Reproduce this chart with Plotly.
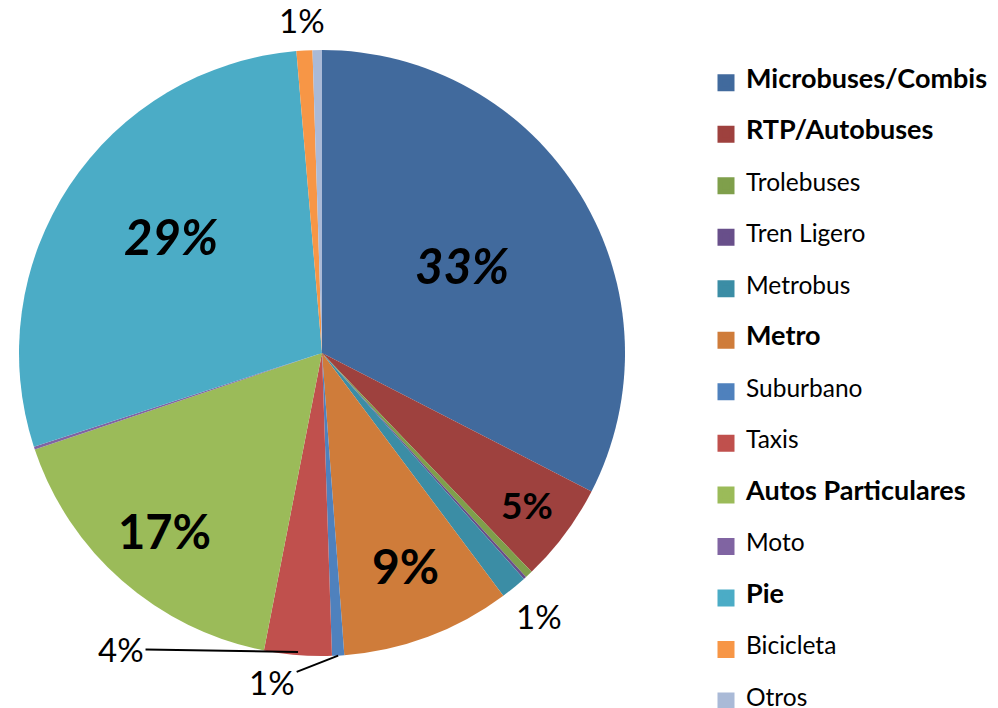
import math
import plotly.graph_objects as go

# ---------------- data ----------------
categories = ["Microbuses/Combis", "RTP/Autobuses", "Trolebuses", "Tren Ligero",
              "Metrobus", "Metro", "Suburbano", "Taxis", "Autos Particulares",
              "Moto", "Pie", "Bicicleta", "Otros"]
shares = [32.6, 5.3, 0.4, 0.15, 1.4, 9.05, 0.65, 3.6, 16.8, 0.15, 28.7, 0.85, 0.5]
colors = ["#416A9D", "#9E413E", "#7F9F4B", "#684F8A", "#3B8DA5", "#CF7C3A",
          "#4F81BD", "#C0504D", "#9BBB59", "#8064A2", "#4BACC6", "#F79646", "#AABAD7"]
emphasized = ["Microbuses/Combis", "RTP/Autobuses", "Metro", "Autos Particulares", "Pie"]

# label styling: (radius factor, x offset px, y offset px, bold, italic, size, leader line)
label_style = {
    "Microbuses/Combis": (0.54, 0, 3, True, True, 49, False),
    "RTP/Autobuses": (0.84, 1, 1, True, False, 37, False),
    "Metrobus": (1.13, 0, 2, False, False, 33, False),
    "Metro": (0.76, 3, 3, True, False, 48, False),
    "Suburbano": (1.0, -66, 26, False, False, 33, True),
    "Taxis": (0.99, -177, -3, False, False, 33, True),
    "Autos Particulares": (0.79, 0, 2, True, False, 47, False),
    "Pie": (0.63, 8, 11, True, True, 49, False),
    "Bicicleta": (1.10, -1, 0, False, False, 33, False),
}

# ---------------- layout geometry ----------------
W, H = 998, 708
CX, CY, R = 322, 353, 303
FONT = "Lato"

dom_x = [(CX - R) / W, (CX + R) / W]
dom_y = [1 - (CY + R) / H, 1 - (CY - R) / H]

total = sum(shares)

legend_names = []
for c in categories:
    if c in emphasized:
        txt = "<span style='font-size:27px'><b>" + c + "</b></span>"
    else:
        txt = "<span style='font-size:24.5px'>" + c + "</span>"
    legend_names.append("\u00a0<br>" + txt + "<br>\u00a0")

fig = go.Figure()

# legend proxy (tiny, hidden under the main pie at the same centre)
eps = 0.3
fig.add_trace(go.Pie(
    labels=legend_names, values=shares, sort=False, direction="clockwise",
    marker=dict(colors=colors, line=dict(color=colors, width=5)),
    textinfo="none", hoverinfo="skip", showlegend=True,
    domain=dict(x=[(CX - eps) / W, (CX + eps) / W], y=[1 - (CY + eps) / H, 1 - (CY - eps) / H]),
))

# main pie
fig.add_trace(go.Pie(
    labels=categories, values=shares, sort=False, direction="clockwise", rotation=0,
    marker=dict(colors=colors, line=dict(width=[0] * len(categories))),
    textinfo="none",
    showlegend=False, domain=dict(x=dom_x, y=dom_y),
    hovertemplate="%{label}: %{percent}<extra></extra>",
))

annotations = []
cum = 0.0
for c, v in zip(categories, shares):
    mid = (cum + v / 2) / total * 2 * math.pi
    cum += v
    if c not in label_style:
        continue
    k, ox, oy, bold, italic, size, arrow = label_style[c]
    px = CX + k * R * math.sin(mid)
    py = CY - k * R * math.cos(mid)
    txt = f"{round(v / total * 100)}%"
    if italic:
        txt = "<i>" + txt + "</i>"
    if bold:
        txt = "<b>" + txt + "</b>"
    ann = dict(
        x=px / W, y=1 - py / H, xref="paper", yref="paper",
        text=txt, showarrow=arrow,
        xanchor="center", yanchor="middle",
        font=dict(family=FONT, size=size, color="black"),
    )
    if arrow:
        ann.update(ax=ox, ay=oy, arrowhead=0, arrowwidth=2, arrowcolor="black", standoff=0)
    else:
        ann.update(xshift=ox, yshift=oy)
    annotations.append(ann)

fig.update_layout(
    width=W, height=H,
    margin=dict(l=0, r=0, t=0, b=0, autoexpand=False),
    paper_bgcolor="white", plot_bgcolor="white",
    font=dict(family=FONT, color="black"),
    legend=dict(x=706 / W, xanchor="left", y=1 - 52 / H, yanchor="top",
                font=dict(family=FONT, size=12.44, color="black"),
                bgcolor="rgba(0,0,0,0)", borderwidth=0),
    annotations=annotations,
)

fig.write_html("out.html", config={"displayModeBar": False},
               post_script="document.body.style.margin='0px';document.body.style.overflow='hidden';")
